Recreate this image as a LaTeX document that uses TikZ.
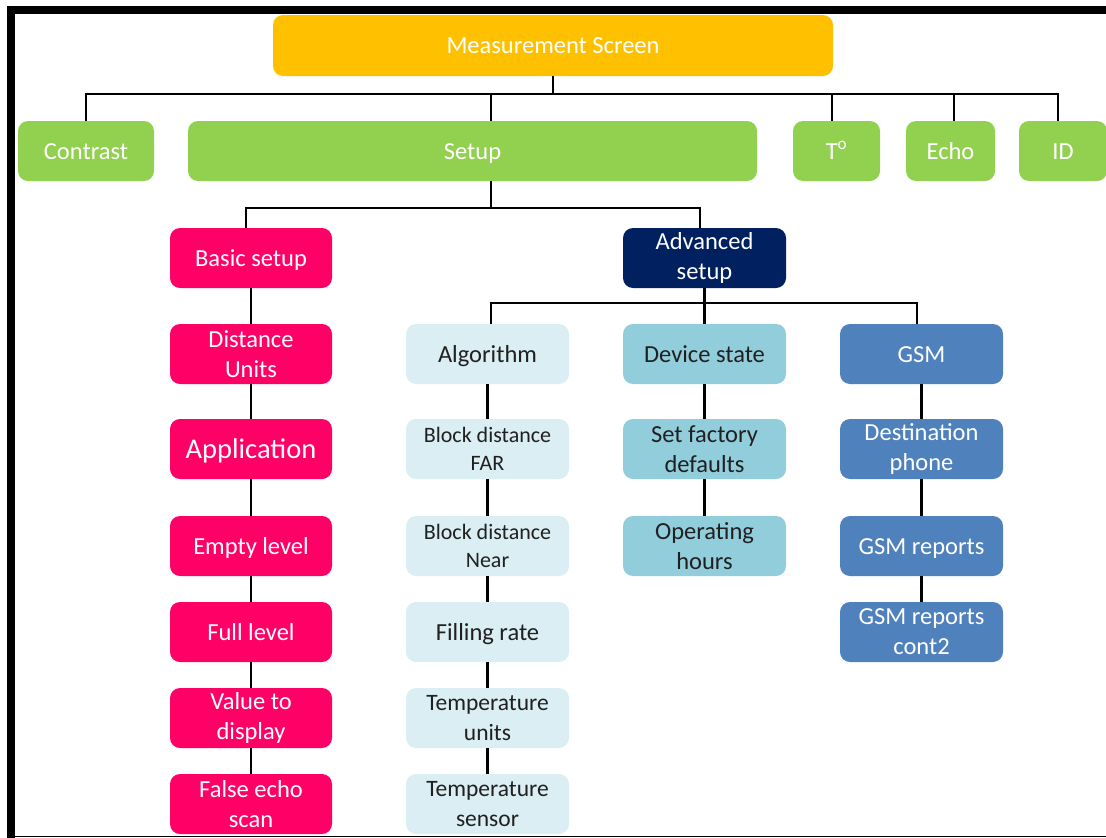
\documentclass[tikz,border=0pt]{standalone}
\usepackage{fontspec}
\setmainfont{Carlito}
\definecolor{cyel}{HTML}{FFC000}
\definecolor{cgrn}{HTML}{92D050}
\definecolor{cpink}{HTML}{FF0066}
\definecolor{cnavy}{HTML}{002060}
\definecolor{clight}{HTML}{DAEEF3}
\definecolor{cteal}{HTML}{92CDDC}
\definecolor{cblue}{HTML}{4F81BD}
\definecolor{ctxt}{HTML}{202020}
\tikzset{
  box/.style={rectangle, rounded corners=10pt, inner sep=2pt, align=center,
    font=\fontsize{24.5}{30}\selectfont},
  one/.style={text height=16pt, text depth=0pt},
  topbox/.style={box, one, fill=cgrn, text=white, minimum height=60pt},
  pinkbox/.style={box, fill=cpink, text=white, minimum width=162pt, minimum height=60pt},
  lightbox/.style={box, fill=clight, text=ctxt, minimum width=163pt, minimum height=60pt},
  tealbox/.style={box, fill=cteal, text=ctxt, minimum width=163pt, minimum height=60pt},
  bluebox/.style={box, fill=cblue, text=white, minimum width=163pt, minimum height=60pt},
  conn/.style={line width=2.5pt, black},
  small/.style={font=\fontsize{22}{28}\selectfont},
}
\begin{document}
\begin{tikzpicture}[x=1pt,y=-1pt]
\useasboundingbox (0,0) rectangle (1106,838);
% frame
\draw[line width=8pt] (7,10) -- (1106,10);
\draw[line width=8pt] (11,6) -- (11,838);
\draw[line width=1.5pt] (11,836.5) -- (1106,836.5);

% top
\node[box, one, fill=cyel, text=white, minimum width=560pt, minimum height=61pt] (ms) at (553,45.5) {Measurement Screen};
\node[topbox, minimum width=136pt] (contrast) at (86,151) {Contrast};
\node[topbox, minimum width=569pt] (setup) at (472.5,151) {Setup};
\node[topbox, minimum width=87pt] (temp) at (836.5,151) {T\textsuperscript{o}};
\node[topbox, minimum width=89pt] (echo) at (950.5,151) {Echo};
\node[topbox, minimum width=88pt] (id) at (1063,151) {ID};

\coordinate (bus1) at (553,94);
\draw[conn] (ms.south) -- (bus1);
\draw[conn] (contrast.north) |- (bus1);
\draw[conn] ([xshift=18.5pt]setup.north) |- (bus1);
\draw[conn] ([xshift=-4.5pt]temp.north) |- (bus1);
\draw[conn] ([xshift=3.5pt]echo.north) |- (bus1);
\draw[conn] ([xshift=-5pt]id.north) |- (bus1);

% second level
\node[pinkbox, one] (basic) at (251,258) {Basic setup};
\node[box, fill=cnavy, text=white, minimum width=163pt, minimum height=60pt] (adv) at (704.5,258) {Advanced\\setup};
\coordinate (bus2) at (491,208);
\draw[conn] ([xshift=18.5pt]setup.south) -- (bus2);
\draw[conn] ([xshift=-5pt]basic.north) |- (bus2);
\draw[conn] ([xshift=-4.5pt]adv.north) |- (bus2);

% basic column
\node[pinkbox] (dist) at (251,354) {Distance\\Units};
\node[pinkbox, font=\fontsize{28.5}{34}\selectfont, text height=18pt, text depth=0pt] (app) at (251,449) {Application};
\node[pinkbox, one] (empty) at (251,546) {Empty level};
\node[pinkbox, one] (full) at (251,632) {Full level};
\node[pinkbox] (value) at (251,718) {Value to\\display};
\node[pinkbox] (false) at (251,804) {False echo\\scan};
\draw[conn] (basic.south) -- (dist.north);
\draw[conn] (dist.south) -- (app.north);
\draw[conn] (app.south) -- (empty.north);
\draw[conn] (empty.south) -- (full.north);
\draw[conn] (full.south) -- (value.north);
\draw[conn] (value.south) -- (false.north);

% advanced bus
\coordinate (bus3) at (704,303);
\node[lightbox, one] (algo) at (487.5,354) {Algorithm};
\node[tealbox, one] (dev) at (704.5,354) {Device state};
\node[bluebox, one] (gsm) at (921.5,354) {GSM};
\draw[conn] (adv.south) -- (dev.north);
\draw[conn] ([xshift=3.5pt]algo.north) |- (bus3);
\draw[conn] ([xshift=-4.5pt]gsm.north) |- (bus3);

% algorithm column
\node[lightbox, small] (bfar) at (487.5,449) {Block distance\\FAR};
\node[lightbox, small] (bnear) at (487.5,546) {Block distance\\Near};
\node[lightbox, one] (fill) at (487.5,632) {Filling rate};
\node[lightbox, font=\fontsize{23.5}{30}\selectfont] (tunits) at (487.5,718) {Temperature\\units};
\node[lightbox, font=\fontsize{23.5}{30}\selectfont] (tsens) at (487.5,804) {Temperature\\sensor};
\draw[conn] (algo.south) -- (bfar.north);
\draw[conn] (bfar.south) -- (bnear.north);
\draw[conn] (bnear.south) -- (fill.north);
\draw[conn] (fill.south) -- (tunits.north);
\draw[conn] (tunits.south) -- (tsens.north);

% device column
\node[tealbox] (fact) at (704.5,449) {Set factory\\defaults};
\node[tealbox] (hours) at (704.5,546) {Operating\\hours};
\draw[conn] (dev.south) -- (fact.north);
\draw[conn] (fact.south) -- (hours.north);

% gsm column
\node[bluebox] (dest) at (921.5,449) {Destination\\phone};
\node[bluebox, one] (rep) at (921.5,546) {GSM reports};
\node[bluebox] (rep2) at (921.5,632) {GSM reports\\cont2};
\draw[conn] (gsm.south) -- (dest.north);
\draw[conn] (dest.south) -- (rep.north);
\draw[conn] (rep.south) -- (rep2.north);
\end{tikzpicture}
\end{document}
